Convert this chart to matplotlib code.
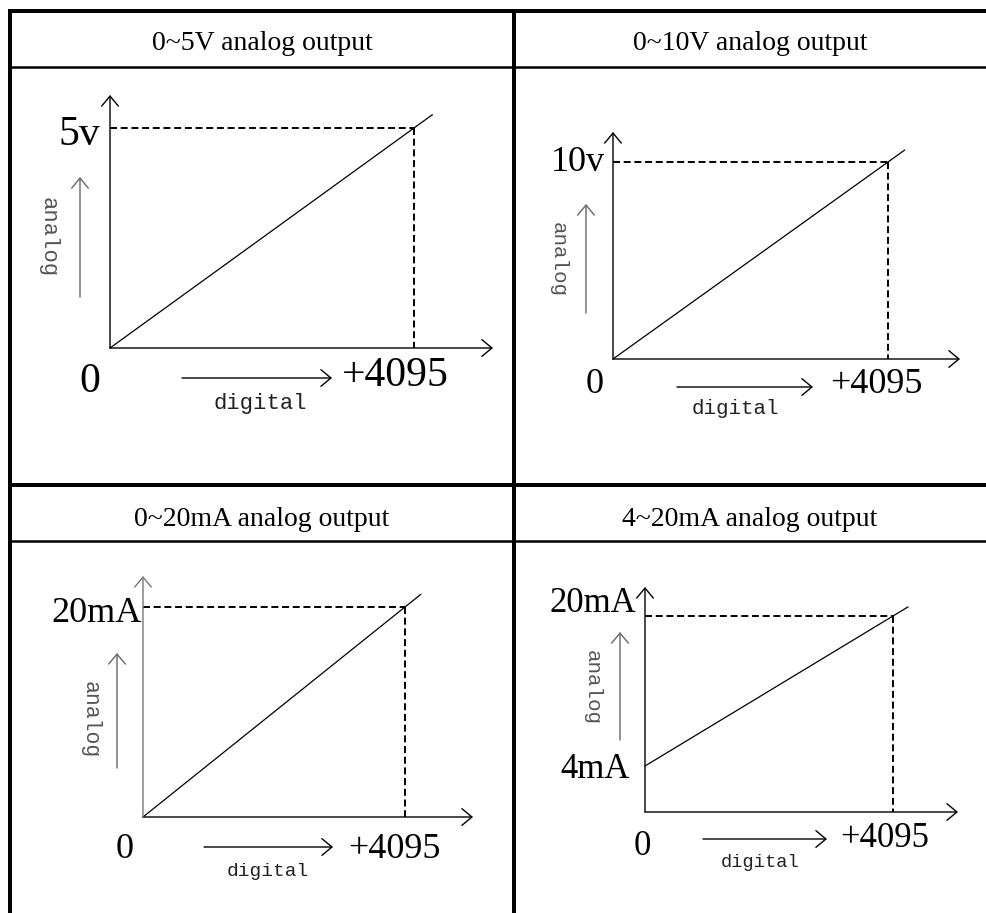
import matplotlib
matplotlib.use("Agg")
import matplotlib.pyplot as plt
import numpy as np

# ---- data ----
titles = ["0~5V analog output", "0~10V analog output",
          "0~20mA analog output", "4~20mA analog output"]
digital_range = [0, 4095]
analog_low = [0, 0, 0, 4]
analog_high = [5, 10, 20, 20]
high_labels = ["5v", "10v", "20mA", "20mA"]
low_labels = [None, None, None, "4mA"]
digital_labels = ["0", "+4095"]
x_name = "digital"
y_name = "analog"

# ---- layout (pixels) ----
W, H = 986, 913
# origin x0,y0 ; x at 4095 ; y pixel of low value ; y pixel of high value ; x-axis end ; y-axis top
panels = [
    dict(x0=110, y0=348, xd=414, ylo=348, yhi=128, xend=493, ytop=95, fs=30,
         hi_pos=(79, 145), lo_pos=None, zero_pos=(90, 392), max_pos=(395, 386),
         darrow=(182, 332, 378), dtext=(260, 409), dfs=16,
         atext=(48, 237), afs=16, aarrow=(80, 297, 177), title_pos=(262, 50), ycol="black"),
    dict(x0=613, y0=359, xd=888, ylo=359, yhi=162, xend=960, ytop=132, fs=26,
         hi_pos=(578, 171), lo_pos=None, zero_pos=(595, 393), max_pos=(876, 393),
         darrow=(677, 813, 387), dtext=(735, 414), dfs=15,
         atext=(558, 260), afs=15, aarrow=(586, 313, 204), title_pos=(750, 50), ycol="black"),
    dict(x0=143, y0=817, xd=405, ylo=817, yhi=607, xend=473, ytop=576, fs=26,
         hi_pos=(97, 622), lo_pos=None, zero_pos=(125, 858), max_pos=(394, 858),
         darrow=(204, 333, 847), dtext=(268, 876), dfs=14,
         atext=(90, 720), afs=15.5, aarrow=(117, 768, 653), title_pos=(262, 526), ycol="#777777"),
    dict(x0=645, y0=812, xd=893, ylo=766, yhi=616, xend=958, ytop=587, fs=25,
         hi_pos=(593, 612), lo_pos=(595, 778), zero_pos=(642, 855), max_pos=(885, 847),
         darrow=(703, 827, 839), dtext=(760, 867), dfs=13.5,
         atext=(592, 687), afs=15, aarrow=(620, 740, 632), title_pos=(750, 526), ycol="black"),
]
line_ext = 1.06

serif = ["Liberation Serif", "DejaVu Serif"]
mono = ["Liberation Mono", "DejaVu Sans Mono"]

fig = plt.figure(figsize=(W / 100, H / 100), dpi=100)
bg = fig.add_axes([0, 0, 1, 1])
bg.set_xlim(0, W)
bg.set_ylim(H, 0)
bg.axis("off")

# table grid
thick = 4 * 72 / 100
thin = 2.5 * 72 / 100
bg.plot([8, W], [11.5, 11.5], color="black", lw=thick, solid_capstyle="butt")
bg.plot([10, 10], [9.5, H], color="black", lw=thick, solid_capstyle="butt")
bg.plot([514, 514], [9.5, H], color="black", lw=thick, solid_capstyle="butt")
bg.plot([10, W], [485.5, 485.5], color="black", lw=thick, solid_capstyle="butt")
bg.plot([10, W], [67, 67], color="black", lw=thin, solid_capstyle="butt")
bg.plot([10, W], [541.3, 541.3], color="black", lw=thin, solid_capstyle="butt")

def arrow(ax, xy_from, xy_to, color="black", lw=1.0, coords="data"):
    ax.annotate("", xy=xy_to, xytext=xy_from, xycoords=coords, textcoords=coords,
                arrowprops=dict(arrowstyle="->,head_length=0.36,head_width=0.3",
                                color=color, lw=lw, shrinkA=0, shrinkB=0,
                                mutation_scale=20),
                annotation_clip=False)

for i, p in enumerate(panels):
    lo, hi = analog_low[i], analog_high[i]
    ax = fig.add_axes([p["x0"] / W, 1 - p["y0"] / H,
                       (p["xend"] - p["x0"]) / W, (p["y0"] - p["ytop"]) / H])
    ax.axis("off")
    ax.patch.set_alpha(0)
    xscale = (p["xd"] - p["x0"]) / digital_range[1]
    yscale = (p["ylo"] - p["yhi"]) / (hi - lo)
    xmax = (p["xend"] - p["x0"]) / xscale
    ybot = lo - (p["y0"] - p["ylo"]) / yscale
    ytopv = hi + (p["yhi"] - p["ytop"]) / yscale
    ax.set_xlim(0, xmax)
    ax.set_ylim(ybot, ytopv)

    # axes with arrows
    arrow(ax, (0, 0), (1, 0), coords="axes fraction", lw=1.0)
    arrow(ax, (0, 0), (0, 1), coords="axes fraction", lw=1.0, color=p["ycol"])

    # dashed guides
    ax.plot([digital_range[0], digital_range[1]], [hi, hi], color="black", lw=1.4,
            linestyle=(0, (3.6, 1.9)), clip_on=False)
    ax.plot([digital_range[1], digital_range[1]], [hi, ybot], color="black", lw=1.4,
            linestyle=(0, (3.6, 1.9)), clip_on=False)

    # transfer line
    xs = np.array(digital_range, dtype=float)
    ys = np.array([lo, hi], dtype=float)
    slope = (ys[1] - ys[0]) / (xs[1] - xs[0])
    x_end = xs[1] * line_ext
    ax.plot([xs[0], x_end], [ys[0], ys[0] + slope * x_end], color="black", lw=0.9,
            clip_on=False)

    # texts
    bg.text(*p["title_pos"], titles[i], family=serif, fontsize=20, ha="center", va="baseline")
    bg.text(*p["hi_pos"], high_labels[i], family=serif, fontsize=p["fs"], ha="center", va="baseline")
    if low_labels[i]:
        bg.text(*p["lo_pos"], low_labels[i], family=serif, fontsize=p["fs"], ha="center", va="baseline")
    bg.text(*p["zero_pos"], digital_labels[0], family=serif, fontsize=p["fs"], ha="center", va="baseline")
    bg.text(*p["max_pos"], digital_labels[1], family=serif, fontsize=p["fs"], ha="center", va="baseline")
    bg.text(*p["dtext"], x_name, family=mono, fontsize=p["dfs"], ha="center", va="baseline",
            color="#222222")
    bg.text(*p["atext"], y_name, family=mono, fontsize=p["afs"], ha="center", va="center",
            rotation=270, color="#555555")
    dx0, dx1, dy = p["darrow"]
    arrow(bg, (dx0, dy), (dx1, dy), lw=1.0)
    ax_, ay0, ay1 = p["aarrow"]
    arrow(bg, (ax_, ay0), (ax_, ay1), lw=1.0, color="#666666")

fig.savefig("out.png", dpi=100)
